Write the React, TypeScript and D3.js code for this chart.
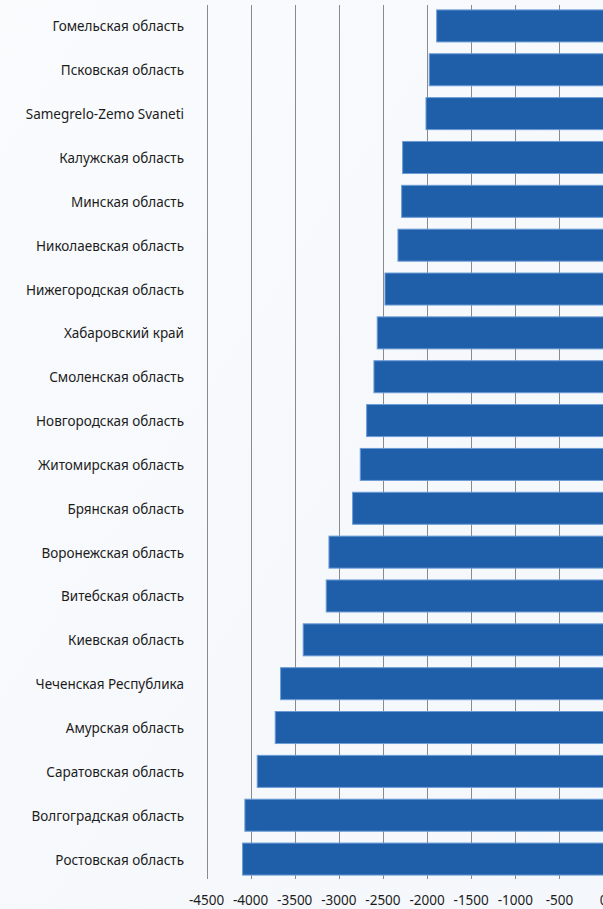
import React from "react";
import * as d3 from "d3";

const categories: string[] = [
  "Гомельская область",
  "Псковская область",
  "Samegrelo-Zemo Svaneti",
  "Калужская область",
  "Минская область",
  "Николаевская область",
  "Нижегородская область",
  "Хабаровский край",
  "Смоленская область",
  "Новгородская область",
  "Житомирская область",
  "Брянская область",
  "Воронежская область",
  "Витебская область",
  "Киевская область",
  "Чеченская Республика",
  "Амурская область",
  "Саратовская область",
  "Волгоградская область",
  "Ростовская область",
];

const values: number[] = [
  -1891, -1975, -2012, -2277, -2288, -2330, -2477, -2565, -2602, -2685,
  -2757, -2844, -3112, -3143, -3404, -3660, -3721, -3925, -4065, -4091,
];

const xTicks: number[] = [-4500, -4000, -3500, -3000, -2500, -2000, -1500, -1000, -500, 0];

const W = 603;
const H = 909;

export default function App() {
  const x = d3.scaleLinear().domain([-4500, 0]).range([206.5, 603.5]);
  const y = d3
    .scaleBand<string>()
    .domain(categories)
    .range([4, 881])
    .paddingInner(0.27)
    .paddingOuter(0.135);

  const font = "'Noto Sans', 'Open Sans', sans-serif";

  return (
    <svg
      width={W}
      height={H}
      style={{ position: "absolute", left: 0, top: 0, display: "block" }}
    >
      <defs>
        <linearGradient id="bg" x1="0" y1="0" x2="1" y2="1">
          <stop offset="0%" stopColor="#f9fbfd" />
          <stop offset="100%" stopColor="#f4f7fb" />
        </linearGradient>
      </defs>
      <rect x={0} y={0} width={W} height={H} fill="url(#bg)" />
      {xTicks.map((t) => (
        <line
          key={"g" + t}
          x1={Math.round(x(t)) + 0.5}
          x2={Math.round(x(t)) + 0.5}
          y1={5}
          y2={879}
          stroke="#8a8a8a"
          strokeWidth={1}
        />
      ))}
      {categories.map((c, i) => {
        const v = values[i];
        const x0 = x(v);
        const x1 = x(0);
        return (
          <rect
            key={c}
            x={x0}
            y={y(c)!}
            width={x1 - x0}
            height={y.bandwidth()}
            fill="#1f5fa9"
            stroke="#6b9bd6"
            strokeWidth={1}
          />
        );
      })}
      {categories.map((c) => (
        <text
          key={"l" + c}
          x={184}
          y={y(c)! + y.bandwidth() / 2 + 0.5}
          textAnchor="end"
          dominantBaseline="central"
          fontFamily={font}
          fontSize={13.5}
          fill="#1c1c1c"
        >
          {c}
        </text>
      ))}
      {xTicks.map((t) => (
        <text
          key={"t" + t}
          x={x(t)}
          y={900}
          textAnchor="middle"
          dominantBaseline="central"
          fontFamily={font}
          fontSize={13.5}
          fill="#1c1c1c"
        >
          {t}
        </text>
      ))}
    </svg>
  );
}
